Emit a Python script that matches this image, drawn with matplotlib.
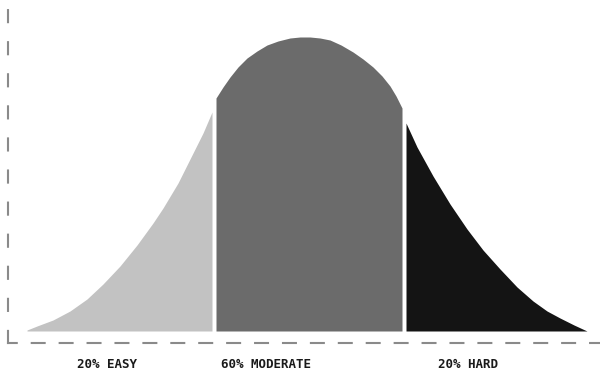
"""Bell curve split into easy / moderate / hard bands."""

import matplotlib.pyplot as plt

# curve outline (x = score, h = height above baseline)
easy_x = [27, 37, 53, 70, 87, 103, 120, 137, 153, 163, 178, 193, 203, 212]
easy_h = [1, 5, 11, 20, 32, 47, 65, 86, 108, 123, 148, 178, 198, 219]

moderate_x = [216, 223, 230, 238, 247, 257, 267, 278, 290, 300, 310, 320, 330, 341, 353, 363, 373, 382, 390, 396, 402]
moderate_h = [233, 244, 254, 264, 273, 280, 286, 290, 293, 294, 294, 293, 291, 286, 279, 272, 264, 255, 245, 235, 223]

hard_x = [406, 417, 433, 450, 467, 483, 500, 517, 533, 547, 560, 574, 587]
hard_h = [208, 184, 155, 127, 102, 81, 62, 44, 30, 20, 13, 6, 0]

labels = ["20% EASY", "60% MODERATE", "20% HARD"]
colors = ["#c2c2c2", "#6b6b6b", "#141414"]

W, H = 600, 369
fig = plt.figure(figsize=(W / 100, H / 100), dpi=100)
# axes: left spine at x=8px, bottom spine at y=343px, top at y=10px
ax = fig.add_axes([8 / W, (H - 343) / H, 1 - 8 / W, (343 - 10) / H])
ax.set_xlim(8, 600)
ax.set_ylim(-12, 321)

segments = [(easy_x, easy_h), (moderate_x, moderate_h), (hard_x, hard_h)]
for (xs, hs), c in zip(segments, colors):
    ax.fill_between(xs, 0, hs, color=c, linewidth=0)

for side in ("top", "right"):
    ax.spines[side].set_visible(False)
ax.spines["left"].set_color("#8a8a8a")
ax.spines["left"].set_linewidth(1.5)
ax.spines["left"].set_linestyle((0, (5.8, 9.6)))
ax.spines["bottom"].set_color("#8a8a8a")
ax.spines["bottom"].set_linewidth(1.5)
ax.spines["bottom"].set_linestyle((2, (6.2, 7.2)))
ax.set_xticks([])
ax.set_yticks([])

label_x = [107, 266, 468]
for x, t in zip(label_x, labels):
    ax.text(x, -33, t, ha="center", va="center", fontsize=9,
            fontweight="bold", family="DejaVu Sans Mono", color="#1a1a1a",
            clip_on=False)

plt.savefig("out.png", dpi=100)
